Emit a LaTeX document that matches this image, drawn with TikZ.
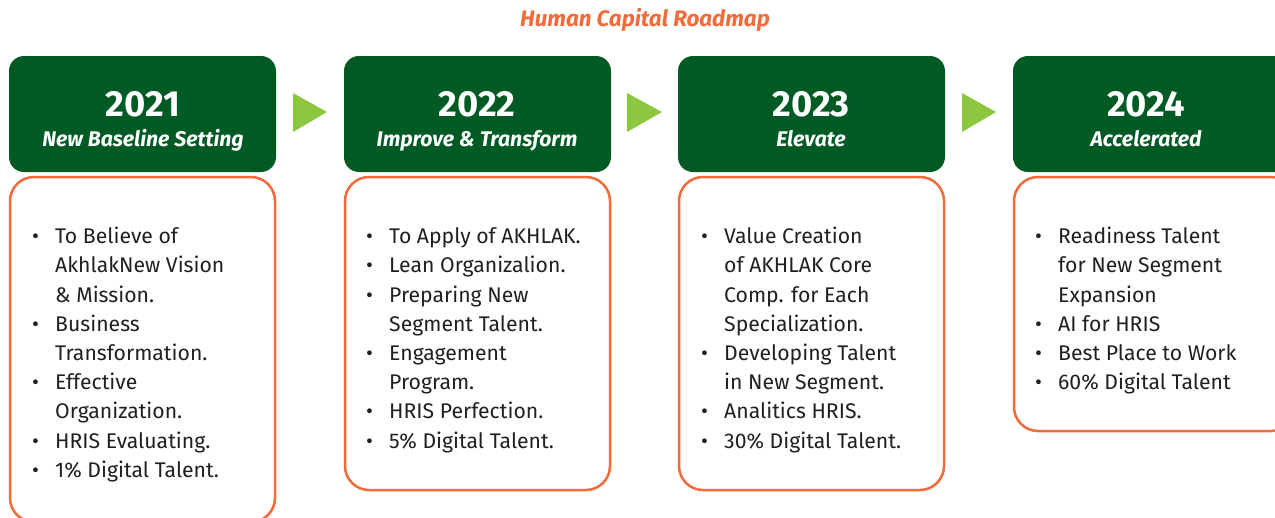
\documentclass[tikz,border=0pt]{standalone}
\usepackage{fontspec}
\setmainfont{Fira Sans}
\definecolor{hdgreen}{RGB}{0,90,35}
\definecolor{trigreen}{RGB}{141,198,63}
\definecolor{orng}{RGB}{242,107,58}
\definecolor{txt}{RGB}{35,31,32}
\newcommand{\bodyfont}{\fontsize{21.2}{29.2}\selectfont}
\tikzset{
  hdbox/.style={fill=hdgreen, rounded corners=15pt},
  bodybox/.style={draw=orng, line width=2.5pt, rounded corners=24pt, fill=white},
  tri/.style={fill=trigreen},
  yeartxt/.style={text=white, font=\fontsize{36.3}{38}\selectfont\bfseries, inner sep=0pt, anchor=base},
  subtxt/.style={text=white, font=\fontsize{21.2}{23}\selectfont\bfseries\itshape, inner sep=0pt, anchor=base},
  listtxt/.style={text=txt, font=\bodyfont, inner sep=0pt, anchor=north west, align=left},
}
\begin{document}
\begin{tikzpicture}[x=1pt,y=-1pt]
\path[use as bounding box] (0,0) rectangle (1275,517);
\clip (0,0) rectangle (1275,517);
\fill[white] (0,0) rectangle (1275,517);

\node[text=orng, font=\fontsize{22.4}{24}\selectfont\bfseries\itshape, inner sep=0pt, anchor=base] (title) at (645,26) {Human Capital Roadmap};

% header boxes
\fill[hdbox] (9,56) rectangle (276,172);
\fill[hdbox] (344,56) rectangle (611,172);
\fill[hdbox] (678,56) rectangle (945,172);
\fill[hdbox] (1013,56) rectangle (1290,172);

% body boxes
\draw[bodybox] (10,177) rectangle (275,522);
\draw[bodybox] (345,177) rectangle (610,490);
\draw[bodybox] (679,177) rectangle (944,490);
\draw[bodybox] (1014,177) rectangle (1295,431);

% triangles
\fill[tri] (293,93) -- (327,112) -- (293,132) -- cycle;
\fill[tri] (627,93) -- (662,112) -- (627,132) -- cycle;
\fill[tri] (962,93) -- (996,112) -- (962,132) -- cycle;

% header texts
\node[yeartxt] (y1) at (143,116) {2021};
\node[subtxt] (s1) at (143,146) {New Baseline Setting};
\node[yeartxt] (y2) at (477,116) {2022};
\node[subtxt] (s2) at (477,146) {Improve \& Transform};
\node[yeartxt] (y3) at (811,116) {2023};
\node[subtxt] (s3) at (811,146) {Elevate};
\node[yeartxt] (y4) at (1146,116) {2024};
\node[subtxt] (s4) at (1146,146) {Accelerated};

% lists
\node[listtxt] (l1) at (32,223) {\begin{tabular}{@{}p{23pt}@{}l@{}}
\textbullet & To Believe of\\
 & AkhlakNew Vision\\
 & \& Mission.\\
\textbullet & Business\\
 & Transformation.\\
\textbullet & Effective\\
 & Organization.\\
\textbullet & HRIS Evaluating.\\
\textbullet & 1\% Digital Talent.
\end{tabular}};

\node[listtxt] (l2) at (366,223) {\begin{tabular}{@{}p{23pt}@{}l@{}}
\textbullet & To Apply of AKHLAK.\\
\textbullet & Lean Organizalion.\\
\textbullet & Preparing New\\
 & Segment Talent.\\
\textbullet & Engagement\\
 & Program.\\
\textbullet & HRIS Perfection.\\
\textbullet & 5\% Digital Talent.
\end{tabular}};

\node[listtxt] (l3) at (701,223) {\begin{tabular}{@{}p{23pt}@{}l@{}}
\textbullet & Value Creation\\
 & of AKHLAK Core\\
 & Comp. for Each\\
 & Specialization.\\
\textbullet & Developing Talent\\
 & in New Segment.\\
\textbullet & Analitics HRIS.\\
\textbullet & 30\% Digital Talent.
\end{tabular}};

\node[listtxt] (l4) at (1035,223) {\begin{tabular}{@{}p{23pt}@{}l@{}}
\textbullet & Readiness Talent\\
 & for New Segment\\
 & Expansion\\
\textbullet & AI for HRIS\\
\textbullet & Best Place to Work\\
\textbullet & 60\% Digital Talent
\end{tabular}};
\end{tikzpicture}
\end{document}
